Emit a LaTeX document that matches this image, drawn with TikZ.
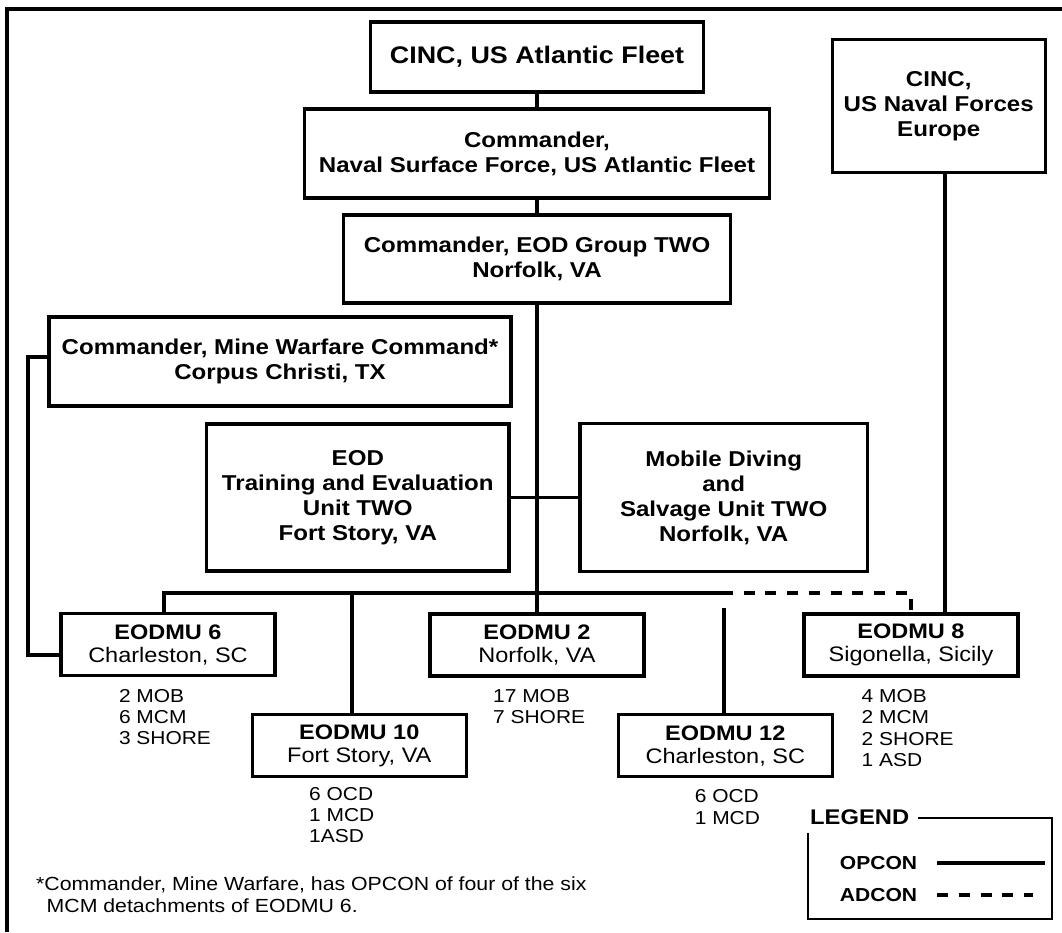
\documentclass[tikz,border=0pt]{standalone}
\usepackage{fontspec}
\setmainfont{Liberation Sans}[FakeStretch=1.12]
\newcommand\bxf{\fontsize{21.5}{25}\selectfont\bfseries}
\newcommand\bxl{\fontsize{24}{27}\selectfont\bfseries}
\newcommand\unf{\fontsize{21}{23}\selectfont}
\newcommand\sbf{\fontsize{18.7}{21.3}\selectfont}
\newcommand\ftf{\fontsize{19}{22.7}\selectfont}
\newcommand\lgf{\fontsize{21.2}{24}\selectfont\bfseries}
\newcommand\lsf{\fontsize{18.8}{22}\selectfont\bfseries}
\begin{document}
\begin{tikzpicture}[x=1pt,y=-1pt,
  frame/.style={line width=4.8pt},
  conn/.style={line width=3.2pt},
  adcon/.style={line width=3.2pt, dash pattern=on 11pt off 10.7pt, dash phase=11pt},
  box/.style={draw, line width=3.2pt, inner sep=0pt, align=center, font=\bxf},
  unit/.style={draw, line width=3.2pt, inner sep=0pt, align=center, font=\unf, minimum width=214pt, minimum height=62pt},
  sub/.style={inner sep=0pt, align=left, font=\sbf, anchor=west},
  legtext/.style={inner sep=0pt, anchor=west}
]
\useasboundingbox (0,0) rectangle (1062,932);
\draw[frame] (1062,9) -- (7,9) -- (7,932);

% boxes
\node[box, font=\bxl, minimum width=333pt, minimum height=70pt] (atl) at (537,57) {CINC, US Atlantic Fleet};
\node[box, minimum width=465pt, minimum height=89pt] (nsf) at (537,153.5) {Commander,\\Naval Surface Force, US Atlantic Fleet};
\node[box, minimum width=387.5pt, minimum height=88pt] (eodg) at (537,259) {Commander, EOD Group TWO\\Norfolk, VA};
\node[box, minimum width=213pt, minimum height=133pt] (eur) at (938.7,106.3) {CINC,\\US Naval Forces\\Europe};
\node[box, minimum width=462pt, minimum height=89pt] (mwc) at (280,361.5) {Commander, Mine Warfare Command*\\Corpus Christi, TX};
\node[box, minimum width=302.4pt, minimum height=147pt] (etu) at (357.8,497.5) {EOD\\Training and Evaluation\\Unit TWO\\Fort Story, VA};
\node[box, minimum width=287.4pt, minimum height=147.7pt] (mdsu) at (723.7,497.5) {Mobile Diving\\and\\Salvage Unit TWO\\Norfolk, VA};

\node[unit] (e6) at (168,644.5) {\textbf{EODMU 6}\\Charleston, SC};
\node[unit] (e2) at (537,645) {\textbf{EODMU 2}\\Norfolk, VA};
\node[unit] (e8) at (911,645) {\textbf{EODMU 8}\\Sigonella, Sicily};
\node[unit] (e10) at (359.3,745.5) {\textbf{EODMU 10}\\Fort Story, VA};
\node[unit] (e12) at (725.3,745.5) {\textbf{EODMU 12}\\Charleston, SC};

% sub texts
\node[sub] (s6) at (118.8,717) {2 MOB\\6 MCM\\3 SHORE};
\node[sub] (s2) at (493,706.5) {17 MOB\\7 SHORE};
\node[sub] (s10) at (309,815) {6 OCD\\1 MCD\\1ASD};
\node[sub] (s12) at (694.6,807) {6 OCD\\1 MCD};
\node[sub] (s8) at (861.5,728) {4 MOB\\2 MCM\\2 SHORE\\1 ASD};

% footnote
\node[inner sep=0pt, align=left, anchor=west, font=\ftf] (fn) at (36,894.6) {*Commander, Mine Warfare, has OPCON of four of the six\\\hspace*{10.5pt}MCM detachments of EODMU 6.};

% connectors
\draw[conn] (atl.south) -- (nsf.north);
\draw[conn] (nsf.south) -- (eodg.north);
\draw[conn] (eodg.south) -- (e2.north);
\draw[conn] (etu.east) -- (mdsu.west);
\coordinate (busL) at (164,593);
\coordinate (busR) at (733,593);
\draw[conn] (busL |- e6.north) -- (busL) -- (busR);
\coordinate (d10) at (352,593);
\draw[conn] (d10) -- (d10 |- e10.north);
\draw[adcon] (busR) -| (e8.north);
\coordinate (t12) at (724,608);
\draw[conn] (t12) -- (t12 |- e12.north);
\coordinate (eurx) at (945,300);
\draw[conn] (eurx |- eur.south) -- (eurx |- e8.north);
\coordinate (lx) at (28,500);
\draw[conn] ([yshift=4.5pt]mwc.west) -| (lx) |- ([yshift=-10.5pt]e6.west);

% legend
\node[legtext, font=\lgf] (leg) at (810,817) {LEGEND};
\draw[line width=2.2pt] ([xshift=8.5pt]leg.east |- 0,817.7) -- (1052,817.7) -- (1052,919) -- (808,919) -- (808,833);
\node[legtext, font=\lsf] (opc) at (839.7,863) {OPCON};
\node[legtext, font=\lsf] (adc) at (839.7,895) {ADCON};
\draw[conn] ([xshift=20pt]opc.east) -- ++(108,0);
\draw[adcon, dash phase=0pt] ([xshift=20pt]adc.east) -- ++(96,0);
\end{tikzpicture}
\end{document}
